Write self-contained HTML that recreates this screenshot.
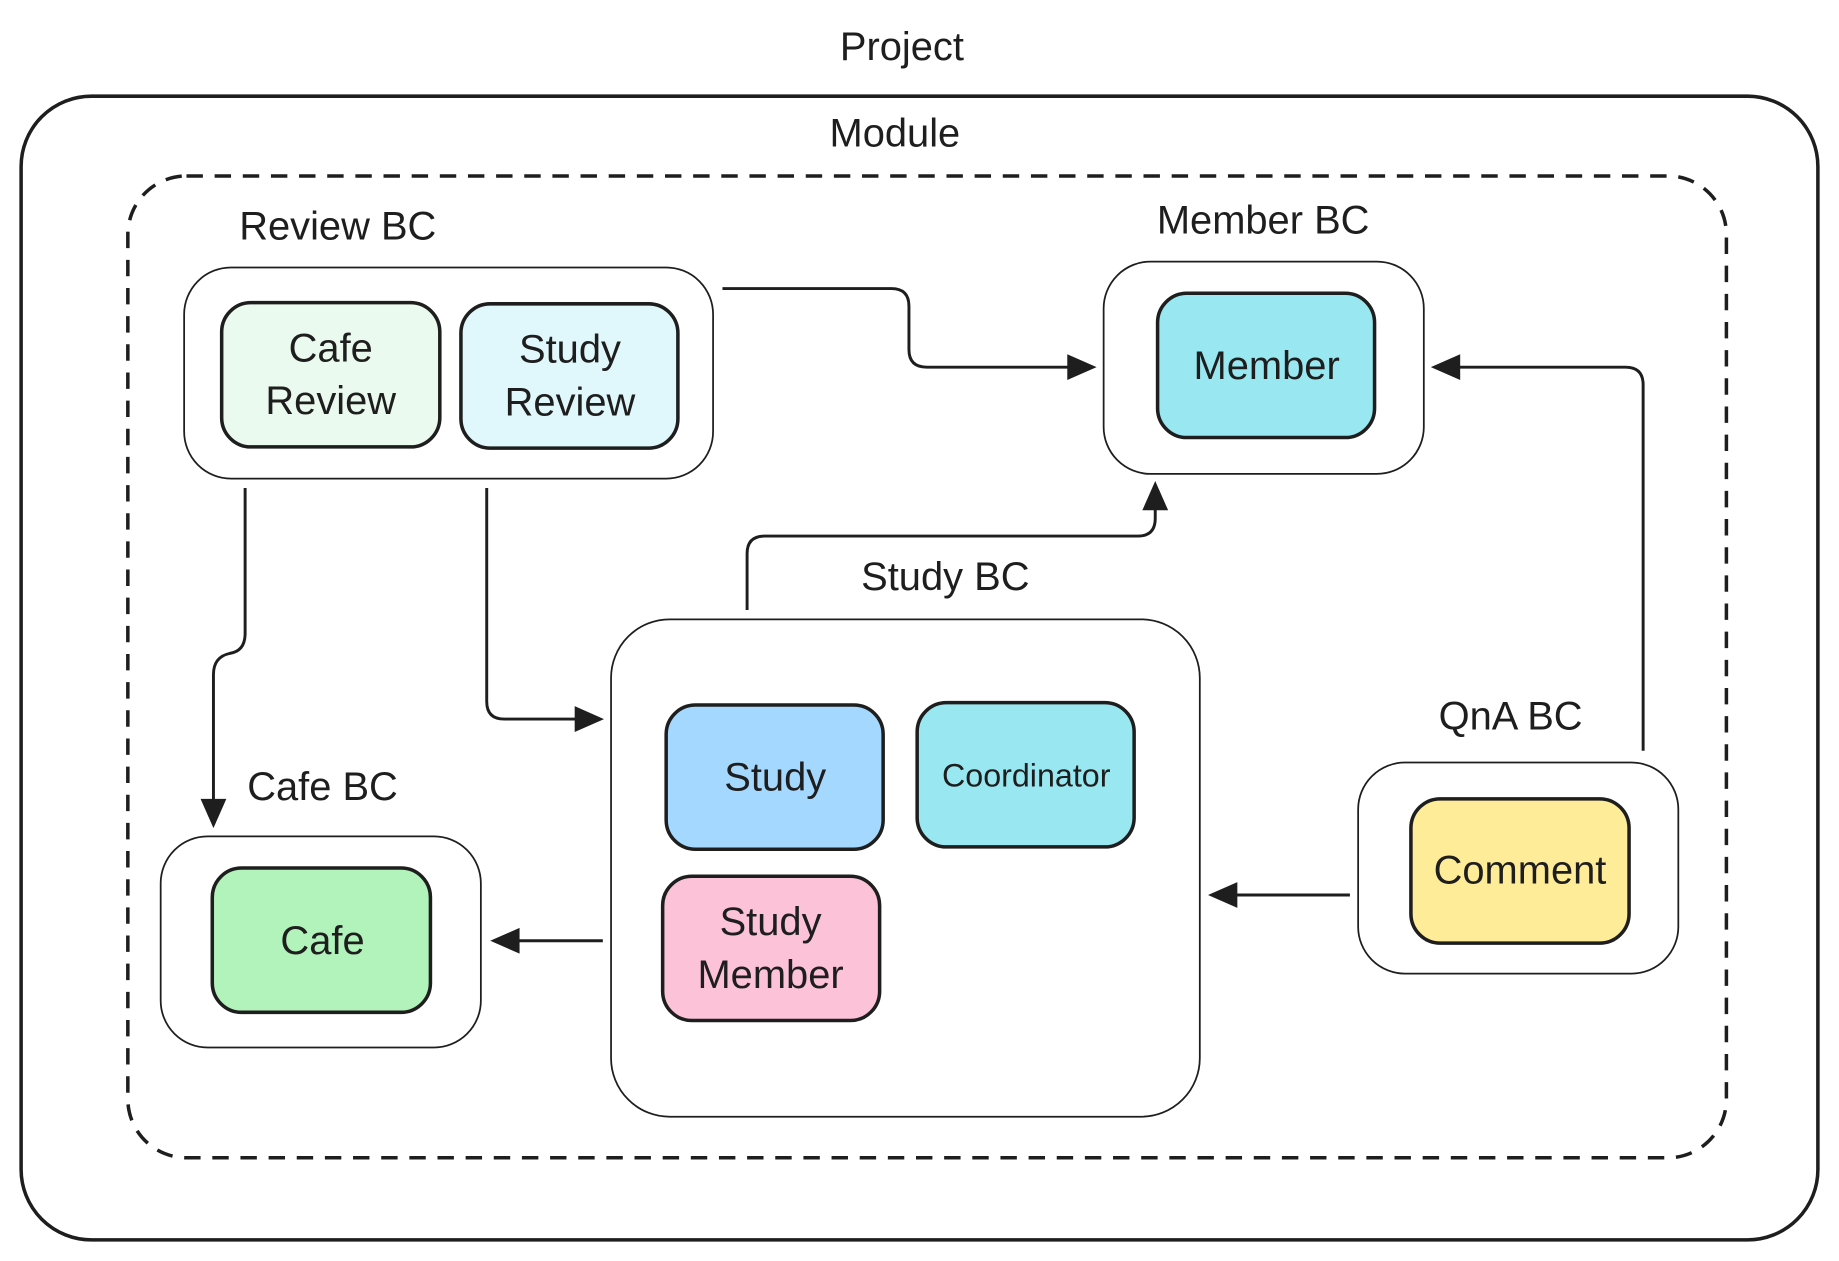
<!DOCTYPE html>
<html><head><meta charset="utf-8"><style>
html,body{margin:0;padding:0;background:#fff;}
svg{display:block;}
text{font-family:"Liberation Sans",sans-serif;fill:#1e1e1e;text-anchor:middle;dominant-baseline:central;}
</style></head><body>
<svg width="1839" height="1261" viewBox="0 0 1568 1075" preserveAspectRatio="none" xmlns="http://www.w3.org/2000/svg">
<g fill="none" stroke="#1e1e1e">
<rect x="18" y="82" width="1532" height="975" rx="60" stroke-width="3"/>
<rect x="109" y="150" width="1363" height="837" rx="50" stroke-width="3" stroke-dasharray="14 10"/>
<rect x="157" y="228" width="451" height="180" rx="40" stroke-width="1.5"/>
<rect x="941" y="223" width="273" height="181" rx="40" stroke-width="1.5"/>
<rect x="521" y="528" width="502" height="424" rx="50" stroke-width="1.5"/>
<rect x="137" y="713" width="273" height="180" rx="40" stroke-width="1.5"/>
<rect x="1158" y="650" width="273" height="180" rx="40" stroke-width="1.5"/>
</g>
<g stroke="#1e1e1e" stroke-width="3">
<rect x="189" y="258" width="186" height="123" rx="25" fill="#ebfaee"/>
<rect x="393" y="259" width="185" height="123" rx="25" fill="#e0f8fb"/>
<rect x="987" y="250" width="185" height="123" rx="25" fill="#99e8f1"/>
<rect x="568" y="601" width="185" height="123" rx="25" fill="#a5d8ff"/>
<rect x="782" y="599" width="185" height="123" rx="25" fill="#99e8f1"/>
<rect x="565" y="747" width="185" height="123" rx="25" fill="#fbc2d8"/>
<rect x="181" y="740" width="186" height="123" rx="25" fill="#b2f2bb"/>
<rect x="1203" y="681" width="186" height="123" rx="25" fill="#ffec99"/>
</g>
<g fill="none" stroke="#1e1e1e" stroke-width="2.5">
<path d="M616 246 H760 Q775 246 775 261 V298 Q775 313 790 313 H912"/>
<path d="M209 416 V540 Q209 555 196 557 Q182 560 182 575 V682"/>
<path d="M415 416 V598 Q415 613 430 613 H492"/>
<path d="M637 520 V472 Q637 457 652 457 H970 Q985 457 985 442 V433"/>
<path d="M1401 640 V328 Q1401 313 1386 313 H1244"/>
<path d="M1151 763 H1054"/>
<path d="M514 802 H442"/>
</g>
<g fill="#1e1e1e">
<path d="M935 313 L910 302 L910 324 Z"/>
<path d="M182 706 L171 681 L193 681 Z"/>
<path d="M515 613 L490 602 L490 624 Z"/>
<path d="M985 410 L974 435 L996 435 Z"/>
<path d="M1220 313 L1245 302 L1245 324 Z"/>
<path d="M1030 763 L1055 752 L1055 774 Z"/>
<path d="M418 802 L443 791 L443 813 Z"/>
</g>
<g font-size="34">
<text x="769" y="40">Project</text>
<text x="763" y="114">Module</text>
<text x="288" y="193">Review BC</text>
<text x="1077" y="188">Member BC</text>
<text x="806" y="492">Study BC</text>
<text x="275" y="671">Cafe BC</text>
<text x="1288" y="611">QnA BC</text>
<text x="282" y="297">Cafe</text>
<text x="282" y="342">Review</text>
<text x="486" y="298">Study</text>
<text x="486" y="343">Review</text>
<text x="1080" y="312">Member</text>
<text x="661" y="663">Study</text>
<text x="875" y="661" font-size="27.5">Coordinator</text>
<text x="657" y="786">Study</text>
<text x="657" y="831">Member</text>
<text x="275" y="802">Cafe</text>
<text x="1296" y="742">Comment</text>
</g>
</svg>
</body></html>
